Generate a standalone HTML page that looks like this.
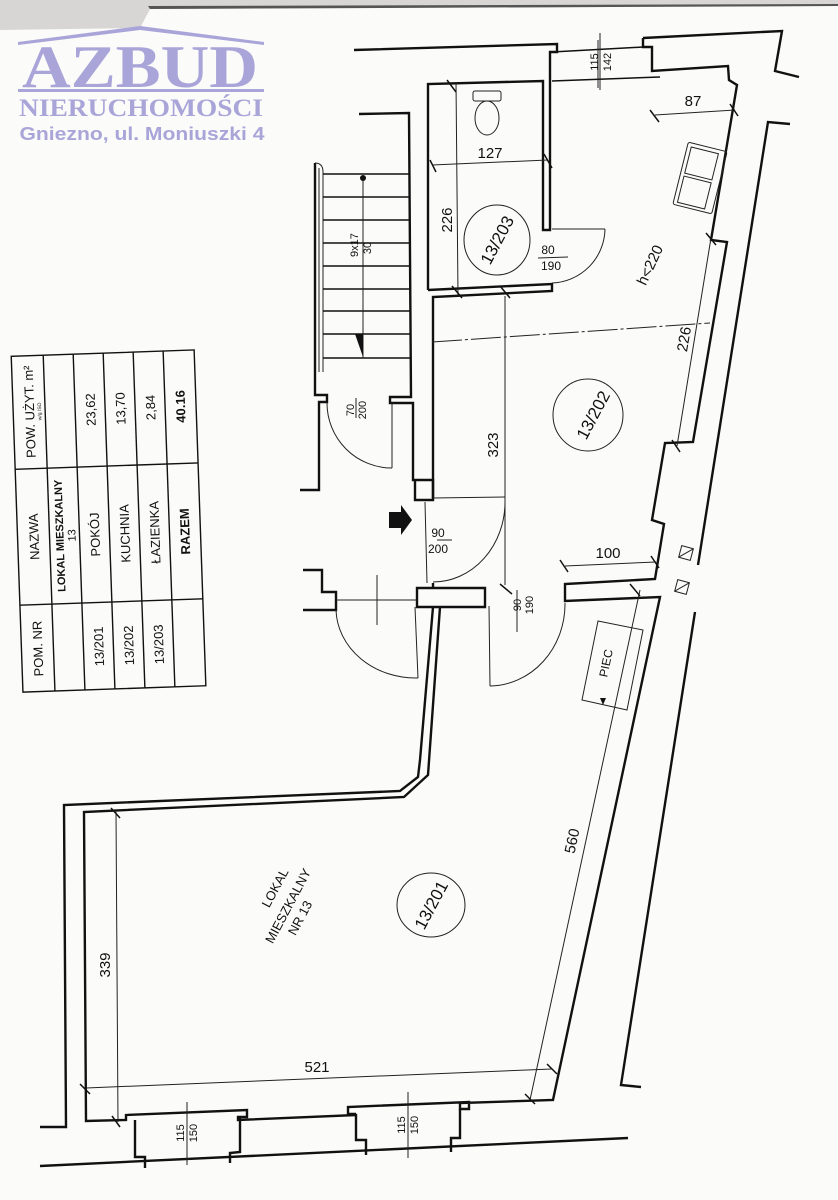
<!DOCTYPE html>
<html><head><meta charset="utf-8"><style>
html,body{margin:0;padding:0;background:#fff}
svg{display:block}
text{font-family:"Liberation Sans",sans-serif;fill:#111}
</style></head><body>
<svg width="838" height="1200" viewBox="0 0 838 1200" xmlns="http://www.w3.org/2000/svg">
<rect width="838" height="1200" fill="#fbfbfa"/>
<!-- paper edge -->
<polygon points="0,0 838,0 838,6 150,9 140,28 0,30" fill="#d8d6d4"/>
<polygon points="150,9 838,6 838,4 148,6" fill="#555"/>
<!-- logo -->
<g fill="#a9a5d8">
<polygon points="18,42 140,26 264,42 264,45 140,30 18,45"/>
<text x="140" y="87" font-size="60" text-anchor="middle" textLength="236" lengthAdjust="spacingAndGlyphs" style="fill:#a9a5d8;font-family:'Liberation Serif',serif;font-weight:bold">AZBUD</text>
<rect x="18" y="89" width="246" height="3"/>
<text x="141" y="116" font-size="25" text-anchor="middle" textLength="244" lengthAdjust="spacingAndGlyphs" style="fill:#a9a5d8;font-family:'Liberation Serif',serif;font-weight:bold">NIERUCHOMOŚCI</text>
<text x="142" y="140" font-size="18" font-weight="bold" text-anchor="middle" textLength="245" lengthAdjust="spacingAndGlyphs" style="fill:#a9a5d8">Gniezno, ul. Moniuszki 4</text>
</g>

<g fill="none" stroke="#111" stroke-width="2.4" stroke-linejoin="miter">
<polyline points="354,50 557,44 557,52 550,52 550,230 543,230 543,81 428,84 428,290"/>
<polyline points="643,38 782,31 775,71 799,77"/>
<polyline points="643,38 643,47 652,47 652,71 728,66 729,80 737,85 711,240 727,242 693,442 665,443 652,520 664,524 655,579 565,584 565,601 660,597 553,1100 460,1103 460,1109 469,1109 469,1102 348,1107 348,1114 356,1114"/>
<line x1="552" y1="81" x2="660" y2="77" stroke-width="1.5"/>
<line x1="552" y1="52" x2="643" y2="47" stroke-width="1.5"/>
<polyline points="428,290 552,284 552,291 433,297 433,498"/>
<polyline points="359,114 409,113 411,397 390,397 390,403 413,403 413,480 433,480 433,500 415,500 415,480"/>
<polyline points="315,163 315,395 327,395 327,402 319,402 319,490 300,490"/>
<polyline points="303,570 322,570 322,592 336,592 336,610 303,610"/>
<polyline points="433,588 417,588 417,607 485,607 485,588 433,588"/>
<polyline points="433,583 433,588"/>
<polyline points="433,607 420,760 418,777 400,791 64,805 66,1127 40,1127"/>
<polyline points="440,607 428,775 404,797 84,812 86,1121 126,1120 126,1115 247,1110 247,1117 238,1117 238,1120 356,1115 356,1140 366,1140 366,1155"/>
<polyline points="135,1120 135,1157 145,1157 145,1168"/>
<polyline points="240,1117 240,1152 230,1153 230,1163"/>
<polyline points="460,1109 460,1138 451,1138 451,1152"/>
<line x1="40" y1="1166" x2="628" y2="1138"/>
<polyline points="790,124 768,122 698,565"/>
<polyline points="695,612 621,1085 641,1087"/>
</g>

<g fill="none" stroke="#222" stroke-width="1">
<line x1="600" y1="33" x2="600" y2="90"/>
<line x1="456" y1="82" x2="458" y2="296"/>
<line x1="432" y1="165" x2="548" y2="160"/>
<line x1="655" y1="115" x2="735" y2="110"/>
<line x1="505" y1="296" x2="505" y2="585"/>
<line x1="432" y1="342" x2="710" y2="323" stroke-dasharray="30,3,3,3"/>
<line x1="711" y1="238" x2="677" y2="446"/>
<line x1="565" y1="566" x2="656" y2="562"/>
<line x1="433" y1="498" x2="505" y2="497"/>
<line x1="425" y1="502" x2="427" y2="583"/>
<line x1="336" y1="600" x2="417" y2="600"/>
<line x1="377" y1="575" x2="377" y2="625"/>
<line x1="489" y1="606" x2="490" y2="686"/>
<line x1="530" y1="1100" x2="640" y2="590"/>
<line x1="116" y1="812" x2="118" y2="1122"/>
<line x1="86" y1="1088" x2="552" y2="1069"/>
<line x1="187" y1="1102" x2="187" y2="1165"/>
<line x1="408" y1="1092" x2="408" y2="1158"/>
<path d="M433,582 A72,80 0 0 0 505,502"/>
<path d="M327,403 A65,65 0 0 0 392,468"/>
<line x1="392" y1="403" x2="392" y2="468"/>
<path d="M336,610 A80,70 0 0 0 418,678"/>
<line x1="415" y1="607" x2="418" y2="678"/>
<path d="M490,686 A76,82 0 0 0 565,603"/>
<line x1="552" y1="229" x2="605" y2="229"/>
<path d="M605,229 A55,55 0 0 1 552,283"/>
<line x1="319" y1="168" x2="319" y2="372"/>
<line x1="323" y1="172" x2="323" y2="372"/>
<path d="M315,163 Q323,163 323,172"/>
<g stroke="#111" stroke-width="1.4">
<line x1="323" y1="174" x2="410" y2="174"/><line x1="323" y1="197" x2="410" y2="197"/>
<line x1="323" y1="220" x2="410" y2="220"/><line x1="323" y1="243" x2="410" y2="243"/>
<line x1="323" y1="266" x2="410" y2="266"/><line x1="323" y1="289" x2="410" y2="289"/>
<line x1="323" y1="311" x2="410" y2="311"/><line x1="323" y1="334" x2="410" y2="334"/>
<line x1="323" y1="358" x2="410" y2="358"/>
</g>
<line x1="363" y1="178" x2="363" y2="358"/>
<line x1="437" y1="540" x2="452" y2="540"/>
<line x1="538" y1="258" x2="568" y2="257"/>
<line x1="356" y1="418" x2="356" y2="398"/>
<line x1="517" y1="590" x2="517" y2="632"/>
<line x1="598" y1="40" x2="598" y2="88"/>
<rect x="473" y="91" width="28" height="10" rx="2"/>
<ellipse cx="487" cy="118" rx="12" ry="17"/>
<g transform="rotate(14 700 178)">
<rect x="680" y="146" width="40" height="64" rx="2"/>
<rect x="684" y="150" width="28" height="27"/>
<rect x="684" y="180" width="28" height="27"/>
</g>
<ellipse cx="497" cy="240" rx="33" ry="35"/>
<ellipse cx="588" cy="415" rx="35" ry="36"/>
<ellipse cx="431" cy="905" rx="34" ry="32"/>
<polygon points="598,621 643,630 627,710 582,700"/>
<g transform="rotate(15 686 553)"><rect x="680" y="547" width="12" height="12"/><line x1="680" y1="559" x2="692" y2="547"/></g>
<g transform="rotate(15 682 587)"><rect x="676" y="581" width="12" height="12"/><line x1="676" y1="593" x2="688" y2="581"/></g>
</g>
<g stroke="#111" stroke-width="1.5">
<line x1="447" y1="80" x2="456" y2="92"/><line x1="430" y1="160" x2="436" y2="172"/><line x1="544" y1="154" x2="552" y2="168"/>
<line x1="452" y1="286" x2="462" y2="298"/><line x1="500" y1="286" x2="510" y2="298"/>
<line x1="650" y1="110" x2="659" y2="122"/><line x1="730" y1="104" x2="738" y2="116"/>
<line x1="706" y1="233" x2="716" y2="245"/><line x1="672" y1="440" x2="680" y2="452"/>
<line x1="560" y1="560" x2="568" y2="572"/><line x1="651" y1="556" x2="659" y2="568"/>
<line x1="500" y1="584" x2="512" y2="594"/><line x1="630" y1="584" x2="640" y2="596"/>
<line x1="111" y1="808" x2="120" y2="818"/><line x1="112" y1="1116" x2="120" y2="1127"/>
<line x1="80" y1="1084" x2="90" y2="1094"/><line x1="547" y1="1064" x2="557" y2="1074"/><line x1="525" y1="1094" x2="535" y2="1104"/>
</g>
<circle cx="363" cy="178" r="3" fill="#111"/>
<polygon points="355,334 363,334 363,357" fill="#111"/>
<polygon points="389,512 401,512 401,505 412,520 401,535 401,528 389,528" fill="#111"/>
<polygon points="600,698 606,698 603,705" fill="#111"/>

<g font-size="15">
<text x="598" y="62" font-size="11" transform="rotate(-90 598 62)" text-anchor="middle">115</text>
<text x="611" y="62" font-size="11" transform="rotate(-90 611 62)" text-anchor="middle">142</text>
<text x="693" y="106" text-anchor="middle">87</text>
<text x="490" y="158" text-anchor="middle">127</text>
<text x="452" y="220" transform="rotate(-90 452 220)" text-anchor="middle">226</text>
<text x="497" y="246" transform="rotate(-62 497 240)" text-anchor="middle" font-size="17">13/203</text>
<text x="548" y="254" font-size="12" text-anchor="middle">80</text>
<text x="551" y="270" font-size="12" text-anchor="middle">190</text>
<text x="650" y="270" transform="rotate(-65 650 265)" text-anchor="middle">h&lt;220</text>
<text x="358" y="245" font-size="11" transform="rotate(-90 358 245)" text-anchor="middle">9x17</text>
<text x="371" y="248" font-size="11" transform="rotate(-90 371 248)" text-anchor="middle">30</text>
<text x="689" y="340" transform="rotate(-80 689 340)" text-anchor="middle">226</text>
<text x="593" y="421" transform="rotate(-62 593 415)" text-anchor="middle" font-size="17">13/202</text>
<text x="498" y="445" transform="rotate(-90 498 445)" text-anchor="middle">323</text>
<text x="354" y="410" font-size="11" transform="rotate(-90 354 410)" text-anchor="middle">70</text>
<text x="366" y="410" font-size="11" transform="rotate(-90 366 410)" text-anchor="middle">200</text>
<text x="438" y="537" font-size="12" text-anchor="middle">90</text>
<text x="438" y="553" font-size="12" text-anchor="middle">200</text>
<text x="608" y="558" text-anchor="middle">100</text>
<text x="521" y="605" font-size="11" transform="rotate(-90 521 605)" text-anchor="middle">90</text>
<text x="533" y="605" font-size="11" transform="rotate(-90 533 605)" text-anchor="middle">190</text>
<text x="610" y="664" font-size="12" transform="rotate(-78 610 664)" text-anchor="middle">PIEC</text>
<text x="577" y="842" transform="rotate(-78 577 842)" text-anchor="middle">560</text>
<text x="279" y="890" font-size="13" transform="rotate(-62 279 890)" text-anchor="middle">LOKAL</text>
<text x="292" y="908" font-size="13" transform="rotate(-62 292 908)" text-anchor="middle">MIESZKALNY</text>
<text x="304" y="920" font-size="13" transform="rotate(-62 304 920)" text-anchor="middle">NR 13</text>
<text x="431" y="911" transform="rotate(-62 431 905)" text-anchor="middle" font-size="17">13/201</text>
<text x="110" y="965" transform="rotate(-90 110 965)" text-anchor="middle">339</text>
<text x="317" y="1072" text-anchor="middle">521</text>
<text x="184" y="1133" font-size="11" transform="rotate(-90 184 1133)" text-anchor="middle">115</text>
<text x="197" y="1133" font-size="11" transform="rotate(-90 197 1133)" text-anchor="middle">150</text>
<text x="405" y="1125" font-size="11" transform="rotate(-90 405 1125)" text-anchor="middle">115</text>
<text x="418" y="1125" font-size="11" transform="rotate(-90 418 1125)" text-anchor="middle">150</text>
</g>

<g transform="rotate(-2 110 520)">
<g fill="none" stroke="#111" stroke-width="1.4">
<rect x="17" y="353" width="183" height="336"/>
<line x1="49" y1="353" x2="49" y2="689"/><line x1="79" y1="353" x2="79" y2="689"/>
<line x1="109" y1="353" x2="109" y2="689"/><line x1="139" y1="353" x2="139" y2="689"/>
<line x1="169" y1="353" x2="169" y2="689"/>
<line x1="17" y1="466" x2="200" y2="466"/><line x1="17" y1="602" x2="200" y2="602"/>
</g>
<g font-size="13">
<text transform="translate(38 409) rotate(-90)" text-anchor="middle">POW. UŻYT. m²</text>
<text transform="translate(45 409) rotate(-90)" text-anchor="middle" font-size="5">w/g ISO</text>
<text transform="translate(99 409) rotate(-90)" text-anchor="middle">23,62</text>
<text transform="translate(129 409) rotate(-90)" text-anchor="middle">13,70</text>
<text transform="translate(159 409) rotate(-90)" text-anchor="middle">2,84</text>
<text transform="translate(189 409) rotate(-90)" text-anchor="middle" font-weight="bold">40.16</text>
<text transform="translate(38 534) rotate(-90)" text-anchor="middle">NAZWA</text>
<text transform="translate(63 534) rotate(-90)" text-anchor="middle" font-weight="bold" font-size="11">LOKAL MIESZKALNY</text>
<text transform="translate(75 534) rotate(-90)" text-anchor="middle" font-size="11">13</text>
<text transform="translate(99 534) rotate(-90)" text-anchor="middle">POKÓJ</text>
<text transform="translate(129 534) rotate(-90)" text-anchor="middle">KUCHNIA</text>
<text transform="translate(159 534) rotate(-90)" text-anchor="middle">ŁAZIENKA</text>
<text transform="translate(189 534) rotate(-90)" text-anchor="middle" font-weight="bold">RAZEM</text>
<text transform="translate(38 646) rotate(-90)" text-anchor="middle">POM. NR</text>
<text transform="translate(99 646) rotate(-90)" text-anchor="middle">13/201</text>
<text transform="translate(129 646) rotate(-90)" text-anchor="middle">13/202</text>
<text transform="translate(159 646) rotate(-90)" text-anchor="middle">13/203</text>
</g>
</g>
</svg>
</body></html>
